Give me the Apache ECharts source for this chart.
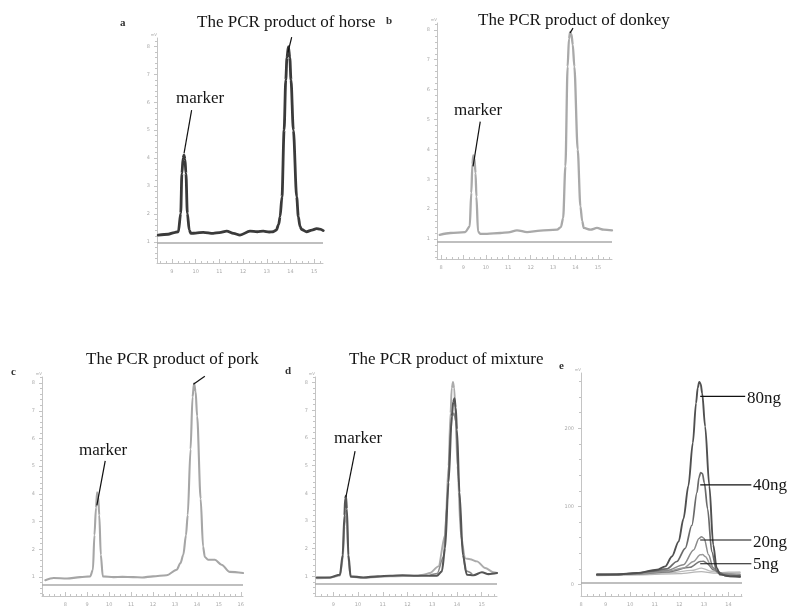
<!DOCTYPE html>
<html><head><meta charset="utf-8">
<script src="https://cdn.jsdelivr.net/npm/echarts@6/dist/echarts.min.js"></script>
<style>html,body{margin:0;padding:0;background:#fff}#c{width:790px;height:607px}</style>
</head><body><div id="c"></div>
<script>
// ---------- data (migration time, signal) ----------
const horseCurve = [[8.42,1.24],[8.84,1.27],[9.1,1.33],[9.27,1.36],[9.37,2.02],[9.42,3.45],[9.47,4.0],[9.51,4.1],[9.55,3.95],[9.59,3.45],[9.65,2.02],[9.73,1.42],[9.80,1.30],[10.0,1.31],[10.32,1.34],[10.74,1.30],[11.0,1.33],[11.31,1.38],[11.6,1.30],[11.87,1.24],[12.29,1.38],[12.6,1.36],[12.85,1.38],[13.1,1.35],[13.27,1.36],[13.40,1.42],[13.50,1.62],[13.56,1.90],[13.64,2.61],[13.73,5.0],[13.80,6.8],[13.85,7.6],[13.91,7.99],[13.97,7.6],[14.02,6.8],[14.12,5.0],[14.26,2.61],[14.33,1.90],[14.40,1.55],[14.47,1.44],[14.68,1.36],[14.9,1.42],[15.1,1.47],[15.24,1.45],[15.38,1.40]];
const donkeyCurve = [[7.94,1.14],[8.42,1.20],[9.08,1.23],[9.28,1.42],[9.35,2.54],[9.40,3.5],[9.44,3.8],[9.49,3.7],[9.54,3.2],[9.58,2.42],[9.65,1.25],[9.75,1.17],[10.05,1.17],[10.65,1.20],[11.0,1.22],[11.39,1.29],[11.84,1.23],[12.43,1.28],[13.18,1.31],[13.35,1.40],[13.45,1.7],[13.55,3.43],[13.65,6.77],[13.71,7.7],[13.76,7.92],[13.82,7.85],[13.88,7.5],[13.95,6.77],[14.10,3.99],[14.22,2.09],[14.30,1.6],[14.37,1.37],[14.67,1.31],[14.96,1.37],[15.26,1.31],[15.63,1.29]];
const porkCurve = [[7.09,0.88],[7.47,0.96],[8.08,0.94],[8.68,0.99],[9.14,1.02],[9.26,1.26],[9.33,2.51],[9.40,3.5],[9.45,4.06],[9.50,3.9],[9.55,3.23],[9.62,1.80],[9.71,1.02],[10.2,0.99],[10.6,1.0],[11.1,0.99],[11.5,0.98],[12.0,1.02],[12.62,1.06],[13.08,1.26],[13.25,1.5],[13.38,1.80],[13.50,2.5],[13.58,3.23],[13.71,5.61],[13.80,7.5],[13.87,7.99],[13.94,7.7],[14.01,6.80],[14.17,3.82],[14.28,2.1],[14.36,1.72],[14.51,1.62],[14.82,1.62],[15.12,1.44],[15.5,1.18],[16.1,1.14]];
const mixDark = [[8.33,0.96],[8.87,0.96],[9.27,1.06],[9.38,1.77],[9.45,3.2],[9.48,3.8],[9.51,3.91],[9.55,3.44],[9.61,1.77],[9.70,1.0],[10.21,0.96],[10.8,1.0],[11.30,1.02],[11.8,1.04],[12.38,1.02],[13.19,1.02],[13.39,1.18],[13.52,2.01],[13.66,4.39],[13.79,6.77],[13.85,7.3],[13.90,7.43],[13.95,7.1],[14.00,6.3],[14.10,4.04],[14.24,1.77],[14.40,1.06],[14.67,1.04],[15.01,1.15],[15.28,1.08],[15.62,1.12]];
const mixLight = [[8.33,0.93],[8.87,0.95],[9.27,1.03],[9.38,1.6],[9.45,2.8],[9.50,3.35],[9.55,2.9],[9.62,1.5],[9.70,0.98],[10.21,0.95],[11.30,1.0],[12.38,1.02],[12.64,1.06],[12.91,1.12],[13.25,1.36],[13.52,2.49],[13.66,4.99],[13.74,6.9],[13.79,7.8],[13.84,8.02],[13.89,7.8],[13.94,6.9],[14.02,4.99],[14.16,2.49],[14.33,1.65],[14.53,1.62],[14.81,1.54],[15.14,1.30],[15.48,1.15],[15.62,1.12]];
const mixMid = [[12.9,1.03],[13.2,1.1],[13.45,1.7],[13.6,3.6],[13.74,6.2],[13.82,6.8],[13.88,6.9],[13.95,6.6],[14.06,4.6],[14.2,2.2],[14.35,1.2],[14.6,1.1]];
const e80 = [[8.65,12.7],[9.46,12.7],[10.28,14.8],[11.09,19],[11.43,23.2],[11.70,35.9],[11.97,54.9],[12.17,84.4],[12.37,126.6],[12.55,181.5],[12.68,232.2],[12.75,252],[12.81,259.5],[12.87,257],[12.93,245],[13.05,202.5],[13.22,126.6],[13.38,50.6],[13.52,21.1],[13.66,12.7],[14.07,10.6],[14.47,10.6]];
const e40 = [[8.65,13.2],[9.46,13.0],[10.28,14.5],[10.82,17],[11.50,20],[11.90,29.5],[12.24,46.4],[12.51,75.9],[12.72,118.1],[12.80,137],[12.87,143.4],[12.94,142],[13.02,130],[13.15,97],[13.32,42.2],[13.52,17],[13.93,10.6],[14.47,9.3]];
const e20 = [[8.65,12.5],[10.28,14],[11.0,16.5],[11.50,18],[12.17,25.3],[12.58,44.3],[12.80,59],[12.90,61.2],[13.01,59.1],[13.19,38],[13.38,21.1],[13.66,13.5],[14.47,10.6]];
const e10 = [[8.65,12.5],[10.28,14],[11.5,17],[12.17,21.1],[12.58,29.5],[12.85,38],[12.95,38.5],[13.05,35.9],[13.32,23.2],[13.58,14.8],[14.47,12]];
const e5 = [[8.65,12],[10.28,13.5],[11.5,16],[12.44,22],[12.85,29.5],[12.98,29.8],[13.12,27.4],[13.38,19],[13.79,13.5],[14.47,13]];
const e2 = [[8.65,12],[10.5,13],[11.6,15],[12.5,18],[12.9,21],[13.3,17],[13.8,15],[14.47,15.5]];
const e1 = [[8.65,11.5],[10.5,12.5],[12.0,14],[12.9,16.5],[13.4,14.5],[14.0,16],[14.47,16]];

const xTicksA = [9,10,11,12,13,14,15];
const xTicksB = [8,9,10,11,12,13,14,15];
const xTicksC = [8,9,10,11,12,13,14,15,16];
const xTicksD = [9,10,11,12,13,14,15];
const xTicksE = [8,9,10,11,12,13,14];
const yTicksSignal = [1,2,3,4,5,6,7,8];
const yTicksE = [0,100,200];

// ---------- layout ----------
const panels = [
  {grid:{left:157,top:38,width:166,height:225}, x:[8.37,15.37], y:[0.24,8.30], xt:xTicksA, yt:yTicksSignal, xm:0.25, ym:0.2, base:0.98},
  {grid:{left:437,top:23,width:175,height:236}, x:[7.82,15.63], y:[0.33,8.23], xt:xTicksB, yt:yTicksSignal, xm:0.25, ym:0.2, base:0.9},
  {grid:{left:42,top:377,width:201,height:221}, x:[6.94,16.1], y:[0.31,8.22], xt:xTicksC, yt:yTicksSignal, xm:0.25, ym:0.2, base:0.725},
  {grid:{left:315,top:377,width:182,height:221}, x:[8.26,15.62], y:[0.29,8.2], xt:xTicksD, yt:yTicksSignal, xm:0.25, ym:0.2, base:0.725},
  {grid:{left:581,top:373,width:161,height:225}, x:[8.0,14.55], y:[-14.7,270.9], xt:xTicksE, yt:yTicksE, xm:0.25, ym:20, base:2.1}
];
const AX = '#c4c4c4';
function minors(min, max, step, majors){
  const out = [];
  const s = Math.ceil(min/step - 1e-9);
  for (let k = s; k*step <= max + 1e-9; k++) {
    const v = +(k*step).toFixed(4);
    if (!majors.some(m => Math.abs(m - v) < 1e-6)) out.push(v);
  }
  return out;
}
const grid = [], xAxis = [], yAxis = [];
const lbl = {fontSize:5, color:'#aaa', fontFamily:'DejaVu Sans'};
panels.forEach((p, i) => {
  grid.push(Object.assign({containLabel:false}, p.grid));
  xAxis.push({gridIndex:i, type:'value', position:'bottom', min:p.x[0], max:p.x[1],
    axisLine:{onZero:false, lineStyle:{color:AX, width:1}},
    axisTick:{customValues:p.xt, inside:true, length:4, lineStyle:{color:AX}},
    axisLabel:Object.assign({customValues:p.xt, margin:6, formatter:v=>String(v)}, lbl),
    splitLine:{show:false}});
  xAxis.push({gridIndex:i, type:'value', position:'bottom', min:p.x[0], max:p.x[1],
    axisLine:{show:false, onZero:false},
    axisTick:{customValues:minors(p.x[0],p.x[1],p.xm,p.xt), inside:true, length:2, lineStyle:{color:AX}},
    axisLabel:{show:false}, splitLine:{show:false}});
  yAxis.push({gridIndex:i, type:'value', position:'left', min:p.y[0], max:p.y[1],
    name:'mV', nameLocation:'end', nameGap:1, nameTextStyle:{fontSize:4, color:'#aaa', align:'right'},
    axisLine:{onZero:false, lineStyle:{color:AX, width:1}},
    axisTick:{customValues:p.yt, length:3, lineStyle:{color:AX}},
    axisLabel:Object.assign({customValues:p.yt, margin:7, formatter:v=>String(v)}, lbl),
    splitLine:{show:false}});
  yAxis.push({gridIndex:i, type:'value', position:'left', min:p.y[0], max:p.y[1],
    axisLine:{show:false, onZero:false},
    axisTick:{customValues:minors(p.y[0],p.y[1],p.ym,p.yt), length:2, lineStyle:{color:AX}},
    axisLabel:{show:false}, splitLine:{show:false}});
});

function curve(pi, data, color, width, base){
  const s = {type:'line', xAxisIndex:2*pi, yAxisIndex:2*pi, data:data, showSymbol:false, symbol:'none',
    smooth:0.3, smoothMonotone:'x', lineStyle:{color:color, width:width, join:'round', cap:'round'}, silent:true, animation:false};
  if (base !== undefined) {
    s.markLine = {silent:true, symbol:['none','none'], label:{show:false}, animation:false,
      lineStyle:{color:'#aaa', width:1.6, type:'solid'}, data:[{yAxis:base}]};
  }
  return s;
}
const series = [
  curve(0, horseCurve, '#3a3a3a', 2.8, panels[0].base),
  curve(1, donkeyCurve, '#a9a9a9', 2.3, panels[1].base),
  curve(2, porkCurve, '#a6a6a6', 2.1, panels[2].base),
  curve(3, mixLight, '#ababab', 1.9, panels[3].base),
  curve(3, mixMid, '#8a8a8a', 1.5),
  curve(3, mixDark, '#555555', 2.1),
  curve(4, e1, '#b5b5b5', 1.3, panels[4].base),
  curve(4, e2, '#bdbdbd', 1.3),
  curve(4, e5, '#777777', 1.5),
  curve(4, e10, '#9a9a9a', 1.5),
  curve(4, e20, '#8a8a8a', 1.5),
  curve(4, e40, '#6a6a6a', 1.7),
  curve(4, e80, '#505050', 1.9)
];

const chart = echarts.init(document.getElementById('c'), null, {renderer:'canvas'});
chart.setOption({animation:false, backgroundColor:'#fff', grid, xAxis, yAxis, series});

// ---------- annotations: leader lines in data coordinates ----------
const firstSeries = [0,1,2,3,6];
const leaders = [
  [0,[14.05,8.33],[13.89,7.78]],
  [0,[9.83,5.72],[9.51,4.17]],
  [1,[13.89,8.06],[13.76,7.9]],
  [1,[9.75,4.93],[9.43,3.43]],
  [2,[14.36,8.25],[13.84,7.96]],
  [2,[9.82,5.19],[9.44,3.58]],
  [3,[9.88,5.52],[9.51,3.86]],
  [4,[12.85,241],[14.68,241]],
  [4,[12.85,127.5],[14.93,127.5]],
  [4,[12.85,57],[14.93,57]],
  [4,[12.85,26.6],[14.93,26.6]]
];
const SERIF = '"Liberation Serif","Times New Roman",serif';
const texts = [
  ['a',120,23,true],['The PCR product of horse',197,23],['marker',176,98.5],
  ['b',386,21,true],['The PCR product of donkey',478,21],['marker',454,111],
  ['c',11,372,true],['The PCR product of pork',86,359.5],['marker',79,451],
  ['d',285,371,true],['The PCR product of mixture',349,359.5],['marker',334,438.5],
  ['e',559,366,true],['80ng',747,399],['40ng',753,486],['20ng',753,542.5],['5ng',753,564.5]
];
const graphic = [];
leaders.forEach(([pi,a,b]) => {
  const p1 = chart.convertToPixel({seriesIndex:firstSeries[pi]}, a);
  const p2 = chart.convertToPixel({seriesIndex:firstSeries[pi]}, b);
  graphic.push({type:'line', silent:true, z:100, shape:{x1:p1[0],y1:p1[1],x2:p2[0],y2:p2[1]}, style:{stroke:'#111', lineWidth:1.2}});
});
texts.forEach(([t,x,y,bold]) => {
  graphic.push({type:'text', silent:true, z:100, x:x, y:y, style:{text:t, fill:bold?'#333':'#151515',
    font:(bold?'bold 11px ':'17px ')+SERIF, align:'left', verticalAlign:'middle'}});
});
chart.setOption({graphic});
</script>
</body></html>
